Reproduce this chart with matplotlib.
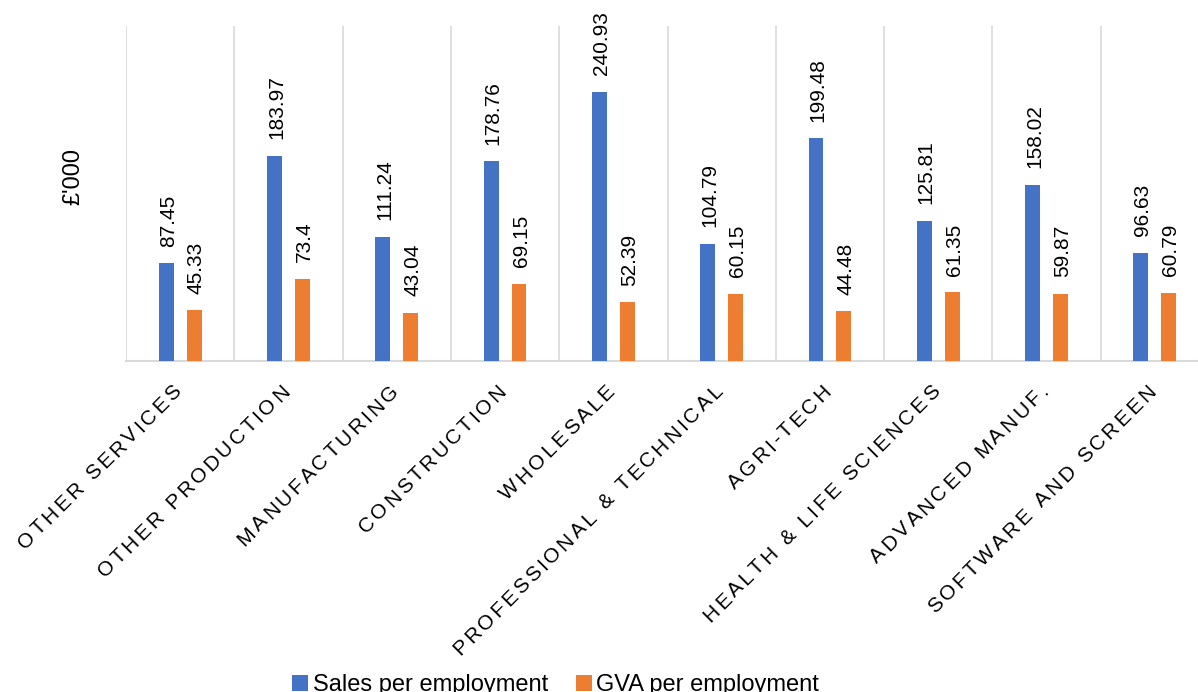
import math

import matplotlib
matplotlib.use("Agg")
import matplotlib.pyplot as plt
import numpy as np
from matplotlib.font_manager import FontProperties
from matplotlib.patches import Patch

# ---- data -------------------------------------------------------------
categories = [
    "OTHER SERVICES", "OTHER PRODUCTION", "MANUFACTURING", "CONSTRUCTION",
    "WHOLESALE", "PROFESSIONAL & TECHNICAL", "AGRI-TECH",
    "HEALTH & LIFE SCIENCES", "ADVANCED MANUF.", "SOFTWARE AND SCREEN",
]
sales_per_employment = [87.45, 183.97, 111.24, 178.76, 240.93,
                        104.79, 199.48, 125.81, 158.02, 96.63]
gva_per_employment = [45.33, 73.4, 43.04, 69.15, 52.39,
                      60.15, 44.48, 61.35, 59.87, 60.79]
series_names = ["Sales per employment", "GVA per employment"]
unit_label = "£'000"

# ---- style ------------------------------------------------------------
BLUE = "#4472C4"
ORANGE = "#ED7D31"
GRID = "#D9D9D9"
FONT = "Liberation Sans"
plt.rcParams["font.family"] = [FONT, "DejaVu Sans"]

W, H, DPI = 1198, 692, 100
fig = plt.figure(figsize=(W / DPI, H / DPI), dpi=DPI)
fig.patch.set_facecolor("white")

# plot area runs slightly past the right edge of the canvas
ax = fig.add_axes([126 / W, 1 - 361 / H, 1083 / W, 335 / H])

x = np.arange(len(categories))
bar_w = 0.138
offset = 0.129
bars_sales = ax.bar(x - offset, sales_per_employment, bar_w, color=BLUE, zorder=3)
bars_gva = ax.bar(x + offset, gva_per_employment, bar_w, color=ORANGE, zorder=3)

ax.set_xlim(-0.5, len(categories) - 0.5)
ax.set_ylim(0, 300)
ax.set_yticks([])
ax.set_xticks(x)
ax.set_xticklabels([])
ax.set_xticks(np.arange(-0.5, len(categories)), minor=True)
ax.tick_params(axis="x", which="both", length=0)
ax.grid(which="minor", axis="x", color=GRID, lw=1.2, zorder=0)
for side in ("top", "right", "left"):
    ax.spines[side].set_visible(False)
ax.spines["bottom"].set_color(GRID)
ax.spines["bottom"].set_linewidth(1.5)

# value labels above each bar
for bars, values in ((bars_sales, sales_per_employment),
                     (bars_gva, gva_per_employment)):
    for rect, v in zip(bars, values):
        ax.annotate(f"{v:g}",
                    xy=(rect.get_x() + rect.get_width() / 2, v),
                    xytext=(1.5, 12), textcoords="offset points",
                    rotation=90, ha="center", va="bottom",
                    fontsize=15, color="black", annotation_clip=False)

# ---- category labels: 45 degrees, with letter spacing ------------------
renderer = fig.canvas.get_renderer()
label_size = 15
letter_gap = 2.9  # px
prop = FontProperties(family=FONT, size=label_size)


def ink_width(s):
    w, _, _ = renderer.get_text_width_height_descent(s, prop, ismath=False)
    return w


hh = ink_width("HH")
angle = math.radians(45)
u = np.array([math.cos(angle), math.sin(angle)])
n = np.array([-math.sin(angle), math.cos(angle)])
cap_h = 0.716 * label_size * DPI / 72

for i, label in enumerate(categories):
    tx, ty = ax.transData.transform((i, 0))
    end = np.array([tx - 3, ty - 26])
    adv = [ink_width("H" + ch + "H") - hh for ch in label]
    total = sum(adv) + letter_gap * (len(label) - 1)
    pos = 0.0
    for ch, a in zip(label, adv):
        if ch != " ":
            c = end - (total - pos - a / 2) * u - (cap_h / 2) * n
            fig.text(c[0] / W, c[1] / H, ch, rotation=45, rotation_mode="anchor",
                     ha="center", va="baseline", fontsize=label_size,
                     color="black")
        pos += a + letter_gap

# ---- axis unit and legend --------------------------------------------
fig.text(73 / W, 1 - 176.5 / H, unit_label, rotation=90,
         ha="center", va="center", fontsize=17, color="black")

handles = [Patch(facecolor=BLUE), Patch(facecolor=ORANGE)]
fig.legend(handles, series_names, loc="center",
           bbox_to_anchor=(555.5 / W, 1 - 685 / H), ncol=2, frameon=False,
           fontsize=17, handlelength=0.68, handleheight=0.68,
           handletextpad=0.17, columnspacing=1.18,
           borderpad=0, borderaxespad=0)

fig.savefig("out.png", dpi=DPI, facecolor="white")
